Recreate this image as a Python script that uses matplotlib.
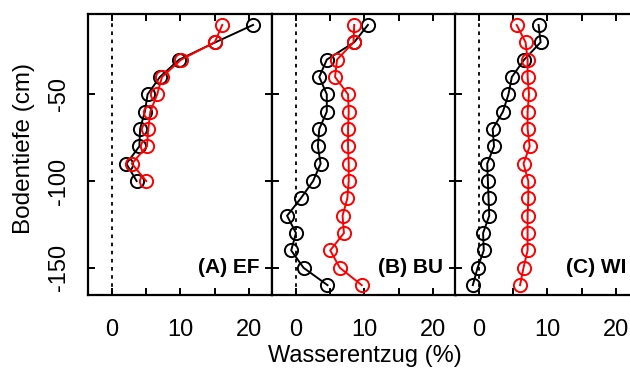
import numpy as np
import matplotlib.pyplot as plt
from matplotlib.ticker import MultipleLocator

plt.rcParams['font.family'] = ['Liberation Sans', 'DejaVu Sans']
plt.rcParams['axes.unicode_minus'] = False

# depths (cm)
depth_a = [-10, -20, -30, -40, -50, -60, -70, -80, -90, -100]
depth_bc = [-10, -20, -30, -40, -50, -60, -70, -80, -90, -100,
            -110, -120, -130, -140, -150, -160]

# water extraction (%) per site, black / red series
ef_black = [20.6, 15.1, 9.8, 7.0, 5.2, 4.8, 4.1, 4.0, 2.1, 3.6]
ef_red = [16.1, 15.0, 10.1, 7.3, 6.6, 5.6, 5.3, 5.1, 2.9, 5.0]
bu_black = [10.5, 8.5, 4.5, 3.4, 4.5, 4.5, 3.4, 3.2, 3.6, 2.5,
            0.7, -1.3, 0.0, -0.7, 1.1, 4.6]
bu_red = [8.5, 8.4, 6.0, 5.7, 7.6, 7.7, 7.6, 7.6, 7.7, 7.7,
          7.5, 6.8, 7.0, 5.0, 6.4, 9.6]
wi_black = [8.7, 9.0, 6.6, 4.8, 4.3, 3.5, 2.0, 2.2, 1.2, 1.3,
            1.4, 1.5, 0.6, 0.7, -0.2, -0.9]
wi_red = [5.5, 6.8, 7.1, 7.1, 7.3, 7.1, 7.1, 7.4, 6.5, 7.2,
          7.2, 7.1, 7.1, 7.1, 6.5, 6.0]

panels = [
    ('(A) EF', depth_a, ef_black, ef_red),
    ('(B) BU', depth_bc, bu_black, bu_red),
    ('(C) WI', depth_bc, wi_black, wi_red),
]

W, H = 630, 377
fig = plt.figure(figsize=(W / 100, H / 100), dpi=100)

lefts = [88, 272, 455]
pw = 184
bottom, top = 295, 14

for i, (label, depth, blk, red) in enumerate(panels):
    ax = fig.add_axes([lefts[i] / W, (H - bottom) / H, pw / W, (bottom - top) / H])
    ax.axvline(0, color='black', ls=(0, (2, 2.5)), lw=1.3)
    ax.plot(blk, depth, '-o', color='black', mfc='none', ms=9.5, mew=1.4, lw=1.4)
    ax.plot(red, depth, '-o', color='red', mfc='none', ms=9.5, mew=1.4, lw=1.4)
    ax.set_xlim(-3.5, 23.36)
    ax.set_ylim(-165.7, -3.7)
    ax.xaxis.set_major_locator(MultipleLocator(10))
    ax.xaxis.set_minor_locator(MultipleLocator(5))
    ax.set_yticks([-50, -100, -150])
    ax.tick_params(which='both', direction='in', length=5, width=1.4,
                   top=True, right=True, labelsize=17, pad=17)
    ax.tick_params(axis='y', pad=13)
    for s in ax.spines.values():
        s.set_linewidth(1.6)
    if i == 0:
        for t in ax.get_yticklabels():
            t.set_rotation(90)
            t.set_va('center')
    else:
        ax.set_yticklabels([])
    ax.text(21.5, -150, label, ha='right', va='center',
            fontsize=15, fontweight='bold')

fig.text(365 / W, 1 - 356 / H, 'Wasserentzug (%)', ha='center', va='center', fontsize=17)
fig.text(24 / W, 1 - 148 / H, 'Bodentiefe (cm)', ha='center', va='center',
         rotation=90, fontsize=17.5)

fig.savefig('out.png', dpi=100)
